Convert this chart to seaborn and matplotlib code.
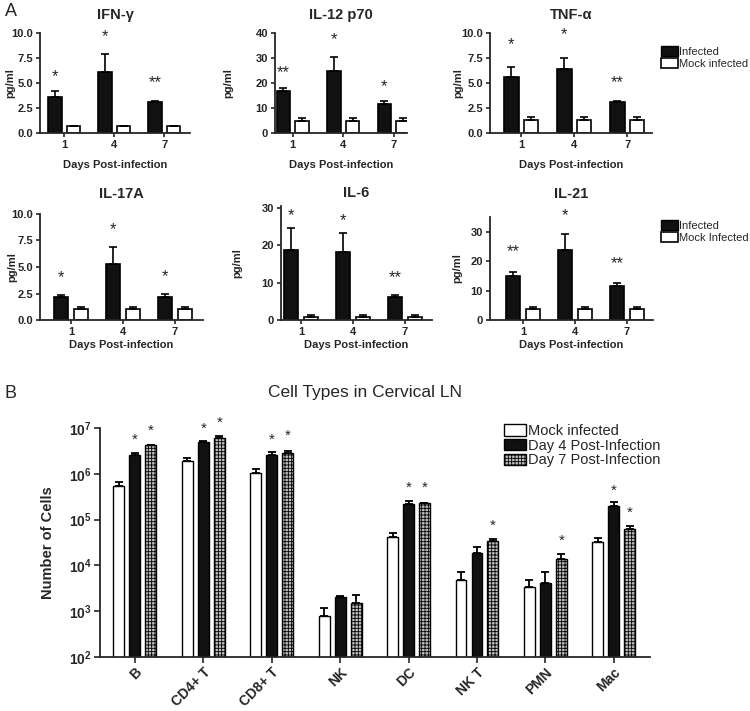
import numpy as np
import pandas as pd
import matplotlib
matplotlib.use('Agg')
import matplotlib.pyplot as plt
from matplotlib.patches import Patch
from matplotlib.ticker import FormatStrFormatter
import seaborn as sns

# ---- Panel A data (pg/ml): means and SEM, days 1 / 4 / 7 ----
days = ['1', '4', '7']

ifng_inf = [3.65, 6.1, 3.1]
ifng_inf_sem = [0.55, 1.8, 0.12]
ifng_mock = [0.7, 0.7, 0.7]
ifng_mock_sem = [0.05, 0.05, 0.05]
ifng_stars = ['*', '*', '**']
ifng_star_y = [5.6, 9.6, 5.0]

il12_inf = [16.7, 25.0, 11.5]
il12_inf_sem = [1.3, 5.5, 1.2]
il12_mock = [5.0, 5.0, 5.0]
il12_mock_sem = [0.9, 0.9, 0.9]
il12_stars = ['**', '*', '*']
il12_star_y = [24.0, 37.2, 18.4]

tnf_inf = [5.65, 6.4, 3.1]
tnf_inf_sem = [0.95, 1.1, 0.1]
tnf_mock = [1.35, 1.35, 1.35]
tnf_mock_sem = [0.3, 0.3, 0.3]
tnf_stars = ['*', '*', '**']
tnf_star_y = [8.8, 9.8, 5.0]

il17_inf = [2.2, 5.3, 2.2]
il17_inf_sem = [0.2, 1.55, 0.25]
il17_mock = [1.0, 1.0, 1.0]
il17_mock_sem = [0.25, 0.25, 0.25]
il17_stars = ['*', '*', '*']
il17_star_y = [4.0, 8.5, 4.1]

il6_inf = [18.7, 18.2, 6.1]
il6_inf_sem = [6.0, 5.1, 0.5]
il6_mock = [0.9, 0.9, 0.9]
il6_mock_sem = [0.4, 0.4, 0.4]
il6_stars = ['*', '*', '**']
il6_star_y = [28.1, 26.8, 11.5]

il21_inf = [15.0, 23.8, 11.7]
il21_inf_sem = [1.2, 5.4, 0.8]
il21_mock = [3.8, 3.8, 3.8]
il21_mock_sem = [0.5, 0.5, 0.5]
il21_stars = ['**', '*', '**']
il21_star_y = [23.1, 35.5, 19.0]

# ---- Panel B data: cell numbers in cervical LN ----
cells = ['B', 'CD4+ T', 'CD8+ T', 'NK', 'DC', 'NK T', 'PMN', 'Mac']
groups_b = ['Mock infected', 'Day 4 Post-Infection', 'Day 7 Post-Infection']
mock_cells = [5.3e5, 1.93e6, 1.04e6, 780, 4.1e4, 4780, 3410, 3.19e4]
mock_cells_top = [6.6e5, 2.17e6, 1.26e6, 1180, 5.2e4, 7100, 4780, 4.04e4]
d4_cells = [2.6e6, 4.85e6, 2.6e6, 2000, 2.17e5, 1.9e4, 4040, 2.03e5]
d4_cells_top = [2.9e6, 5.2e6, 2.95e6, 2200, 2.56e5, 2.48e4, 7050, 2.4e5]
d7_cells = [4.2e6, 6.0e6, 2.8e6, 1480, 2.28e5, 3.39e4, 1.38e4, 6.25e4]
d7_cells_top = [4.3e6, 6.8e6, 3.2e6, 2230, 2.33e5, 3.77e4, 1.77e4, 7.3e4]
d4_stars = ['*', '*', '*', '', '*', '', '', '*']
d4_star_y = [5.6e6, 9.5e6, 5.6e6, 0, 4.9e5, 0, 0, 4.3e5]
d7_stars = ['*', '*', '*', '', '*', '*', '*', '*']
d7_star_y = [8.5e6, 1.29e7, 6.6e6, 0, 4.9e5, 7.4e4, 3.4e4, 1.4e5]

sns.set_style('ticks')
plt.rcParams['font.family'] = ['Liberation Sans', 'DejaVu Sans']
plt.rcParams['mathtext.fontset'] = 'custom'
plt.rcParams['mathtext.rm'] = 'Liberation Sans'
plt.rcParams['mathtext.bf'] = 'Liberation Sans:bold'
plt.rcParams['hatch.linewidth'] = 0.6
plt.rcParams['hatch.color'] = '#222222'

W, H = 750, 711
fig = plt.figure(figsize=(W / 100, H / 100), dpi=100)


def px_axes(left, right, top, bottom):
    return fig.add_axes([left / W, 1 - bottom / H, (right - left) / W, (bottom - top) / H])


def cyto_panel(box, g0, sp, title, title_y, inf, inf_sem, mock, mock_sem, mock_name,
               stars, star_y, ylim, yticks, fmt, ylab_x, xlab_off):
    left, right, top, bottom = box
    ax = px_axes(left, right, top, bottom)
    df = pd.DataFrame({'day': days * 2, 'pg': inf + mock,
                       'group': ['Infected'] * 3 + [mock_name] * 3})
    sns.barplot(data=df, x='day', y='pg', hue='group', order=days,
                hue_order=['Infected', mock_name],
                palette={'Infected': '#111111', mock_name: 'white'},
                saturation=1, edgecolor='black', linewidth=1.2,
                width=0.74, gap=0.27, errorbar=None, legend=False, ax=ax)
    for cont, sem in zip(ax.containers, [inf_sem, mock_sem]):
        for bar, e in zip(cont.patches, sem):
            xc = bar.get_x() + bar.get_width() / 2
            ax.errorbar(xc, bar.get_height(), yerr=[[0], [e]], fmt='none',
                        ecolor='black', elinewidth=1.2, capsize=3, capthick=1.2)
    for bar, s, y in zip(ax.containers[0].patches, stars, star_y):
        ax.text(bar.get_x() + bar.get_width() / 2, y, s, ha='center', va='center',
                fontsize=12, clip_on=False)
    ax.set_xlim((left - g0) / sp, (right - g0) / sp)
    ax.set_ylim(*ylim)
    ax.set_yticks(yticks)
    ax.yaxis.set_major_formatter(FormatStrFormatter(fmt))
    sns.despine(ax=ax)
    for s in ['left', 'bottom']:
        ax.spines[s].set_linewidth(1.3)
    ax.tick_params(length=3, width=1.2, labelsize=8, pad=2)
    for lab in ax.get_xticklabels() + ax.get_yticklabels():
        lab.set_fontweight('bold')
    fig.text((left + right) / 2 / W, 1 - title_y / H, title, fontsize=10.5,
             fontweight='bold', ha='center', va='center')
    ax.set_xlabel('Days Post-infection', fontsize=8, fontweight='bold')
    ax.set_ylabel('pg/ml', fontsize=8, fontweight='bold')
    ax.xaxis.set_label_coords(0.5, -xlab_off / (bottom - top))
    ax.yaxis.set_label_coords((ylab_x - left) / (right - left), 0.5)
    return ax


cyto_panel((40, 190, 33, 133), 64.25, 50, 'IFN-γ', 15, ifng_inf, ifng_inf_sem,
           ifng_mock, ifng_mock_sem, 'Mock infected', ifng_stars, ifng_star_y,
           (0, 10), [0, 2.5, 5, 7.5, 10], '%.1f', 15, 27)
cyto_panel((275, 407, 33, 133), 292.75, 50.5, 'IL-12 p70', 15, il12_inf, il12_inf_sem,
           il12_mock, il12_mock_sem, 'Mock infected', il12_stars, il12_star_y,
           (0, 40), [0, 10, 20, 30, 40], '%d', 233, 27)
cyto_panel((490, 652, 33, 133), 521.25, 53, 'TNF-α', 15, tnf_inf, tnf_inf_sem,
           tnf_mock, tnf_mock_sem, 'Mock infected', tnf_stars, tnf_star_y,
           (0, 10), [0, 2.5, 5, 7.5, 10], '%.1f', 463, 27)
cyto_panel((40, 203, 214, 320), 71, 52, 'IL-17A', 194, il17_inf, il17_inf_sem,
           il17_mock, il17_mock_sem, 'Mock Infected', il17_stars, il17_star_y,
           (0, 10), [0, 2.5, 5, 7.5, 10], '%.1f', 17, 20)
cyto_panel((281, 432, 206, 320), 301, 52, 'IL-6', 193, il6_inf, il6_inf_sem,
           il6_mock, il6_mock_sem, 'Mock Infected', il6_stars, il6_star_y,
           (0, 30.6), [0, 10, 20, 30], '%d', 242, 20)
cyto_panel((490, 653, 217, 320), 523, 52, 'IL-21', 194, il21_inf, il21_inf_sem,
           il21_mock, il21_mock_sem, 'Mock Infected', il21_stars, il21_star_y,
           (0, 35), [0, 10, 20, 30], '%d', 462, 20)

for ytop, mock_name in [(46, 'Mock infected'), (220, 'Mock Infected')]:
    fig.legend(handles=[Patch(facecolor='#111111', edgecolor='black', label='Infected'),
                        Patch(facecolor='white', edgecolor='black', linewidth=1.2,
                              label=mock_name)],
               loc='upper left', bbox_to_anchor=(661 / W, 1 - ytop / H), frameon=False,
               fontsize=8, handlelength=1.55, handleheight=0.95, handletextpad=0.1,
               labelspacing=0.15, borderpad=0, borderaxespad=0)

fig.text(5 / W, 1 - 12 / H, 'A', fontsize=13, va='center', ha='left')
fig.text(5 / W, 1 - 393 / H, 'B', fontsize=13, va='center', ha='left')

# ---- Panel B ----
axb = px_axes(100, 650, 428, 657)
dfb = pd.DataFrame({'cell': cells * 3,
                    'n': mock_cells + d4_cells + d7_cells,
                    'group': [g for g in groups_b for _ in cells]})
sns.barplot(data=dfb, x='cell', y='n', hue='group', order=cells, hue_order=groups_b,
            palette={groups_b[0]: 'white', groups_b[1]: '#111111', groups_b[2]: '#bdbdbd'},
            saturation=1, edgecolor='black', linewidth=1.0, width=0.70, gap=0.32,
            errorbar=None, legend=False, ax=axb)
axb.set_yscale('log')
for bar in axb.containers[2].patches:
    bar.set_hatch('+++++')
tops = [mock_cells_top, d4_cells_top, d7_cells_top]
for cont, top_vals in zip(axb.containers, tops):
    for bar, t in zip(cont.patches, top_vals):
        xc = bar.get_x() + bar.get_width() / 2
        h = bar.get_height()
        axb.errorbar(xc, h, yerr=[[0], [t - h]], fmt='none', ecolor='black',
                     elinewidth=1.3, capsize=3, capthick=1.3)
for cont, st, sy in [(axb.containers[1], d4_stars, d4_star_y),
                     (axb.containers[2], d7_stars, d7_star_y)]:
    for bar, s, y in zip(cont.patches, st, sy):
        if s:
            axb.text(bar.get_x() + bar.get_width() / 2, y, s, ha='center',
                     va='center', fontsize=11, clip_on=False)
axb.set_ylim(1e2, 1e7)
axb.set_xlim(-0.51, 7.53)
axb.set_yticks([1e2, 1e3, 1e4, 1e5, 1e6, 1e7])
axb.set_yticklabels([r'$\mathbf{10^{%d}}$' % k for k in range(2, 8)])
axb.minorticks_off()
sns.despine(ax=axb)
for s in ['left', 'bottom']:
    axb.spines[s].set_linewidth(1.3)
axb.tick_params(length=4, width=1.2, labelsize=10, pad=2)
axb.set_xticks(range(len(cells)))
axb.set_xticklabels(cells, rotation=45, ha='right', rotation_mode='anchor',
                    fontweight='bold', fontsize=10)
axb.set_xlabel('')
axb.set_ylabel('Number of Cells', fontsize=10.5, fontweight='bold')
axb.yaxis.set_label_coords((55 - 100) / (650 - 100), 0.5)
fig.text(365 / W, 1 - 393 / H, 'Cell Types in Cervical LN', fontsize=12.5,
         ha='center', va='center')

fig.legend(handles=[Patch(facecolor='white', edgecolor='black', label=groups_b[0]),
                    Patch(facecolor='#111111', edgecolor='black', label=groups_b[1]),
                    Patch(facecolor='#bdbdbd', edgecolor='black', hatch='+++++',
                          label=groups_b[2])],
           loc='upper left', bbox_to_anchor=(504 / W, 1 - 424 / H), frameon=False,
           fontsize=10.5, handlelength=1.5, handleheight=0.8, handletextpad=0.15,
           labelspacing=0.05, borderpad=0, borderaxespad=0)

fig.savefig('out.png', dpi=100)
